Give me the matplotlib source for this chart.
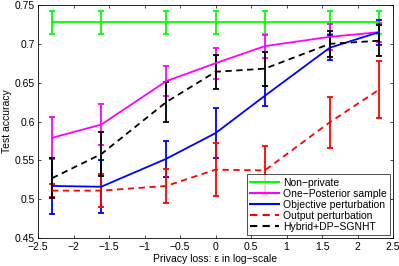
import numpy as np
import matplotlib
matplotlib.use("Agg")
import matplotlib.pyplot as plt

eps = [0.1, 0.2, 0.5, 1, 2, 5, 10]
x = np.log(eps)

nonpriv = [0.7275] * 7
nonpriv_err = [0.015] * 7
onepost = [0.579, 0.596, 0.652, 0.675, 0.697, 0.709, 0.715]
onepost_err = [0.027, 0.026, 0.019, 0.020, 0.015, 0.017, 0.012]
objpert = [0.517, 0.516, 0.552, 0.585, 0.633, 0.695, 0.715]
objpert_err = [0.036, 0.034, 0.023, 0.032, 0.013, 0.016, 0.016]
outpert = [0.511, 0.511, 0.517, 0.538, 0.537, 0.599, 0.641]
outpert_err = [0.008, 0.021, 0.022, 0.034, 0.031, 0.033, 0.037]
hybrid = [0.527, 0.558, 0.625, 0.664, 0.668, 0.700, 0.704]
hybrid_err = [0.026, 0.028, 0.026, 0.022, 0.022, 0.017, 0.020]

labels = ["Non\u2212private", "One\u2212Posterior sample", "Objective perturbation",
          "Output perturbation", "Hybrid+DP\u2212SGNHT"]

plt.rcParams['font.family'] = ['Liberation Sans', 'DejaVu Sans']
fig = plt.figure(figsize=(3.99, 2.66), dpi=100)
ax = fig.add_axes([38/399, 1 - 238/266, (393-38)/399, (238-5)/266])

fs = 7.5
series = [
    (nonpriv, nonpriv_err, '#00ff00', '-'),
    (onepost, onepost_err, '#ff00ff', '-'),
    (objpert, objpert_err, '#0000ff', '-'),
    (outpert, outpert_err, '#ff0000', '--'),
    (hybrid, hybrid_err, '#000000', '--'),
]
for (y, e, c, ls), lab in zip(series, labels):
    ax.errorbar(x, y, yerr=e, color=c, ls=ls, lw=1.3, capsize=2.3,
                elinewidth=1.3, capthick=1.3, label=lab,
                dashes=(3.5, 2.5) if ls == '--' else None)

ax.set_xlim(-2.5, 2.5)
ax.set_ylim(0.45, 0.75)
xt = np.arange(-2.5, 2.51, 0.5)
yt = np.arange(0.45, 0.751, 0.05)
ax.set_xticks(xt)
ax.set_yticks(yt)
ax.set_xticklabels([("%g" % v).replace('-', '\u2212') for v in xt])
ax.set_yticklabels(["%g" % round(v, 2) for v in yt])
ax.tick_params(direction='in', top=True, right=True, labelsize=fs, length=2.5, width=0.5, pad=2)
ax.tick_params(axis='x', pad=3)
for s in ax.spines.values():
    s.set_linewidth(0.6)
ax.set_xlabel("Privacy loss: \u03b5 in log\u2212scale", fontsize=fs, labelpad=1)
ax.set_ylabel("Test accuracy", fontsize=fs, labelpad=2)

leg = ax.legend(handles=[plt.Line2D([], [], color=c, ls=ls, lw=1.5,
                                    dashes=(3.5, 2.5) if ls == '--' else (None, None))
                         for (_, _, c, ls) in series],
                labels=labels, loc='lower right', fontsize=fs, frameon=True, fancybox=False,
                edgecolor='black', borderpad=0.3, labelspacing=0.1, handlelength=2.8,
                handletextpad=0.4, borderaxespad=0.3)
leg.get_frame().set_linewidth(0.6)

fig.savefig("out.png", dpi=100)
